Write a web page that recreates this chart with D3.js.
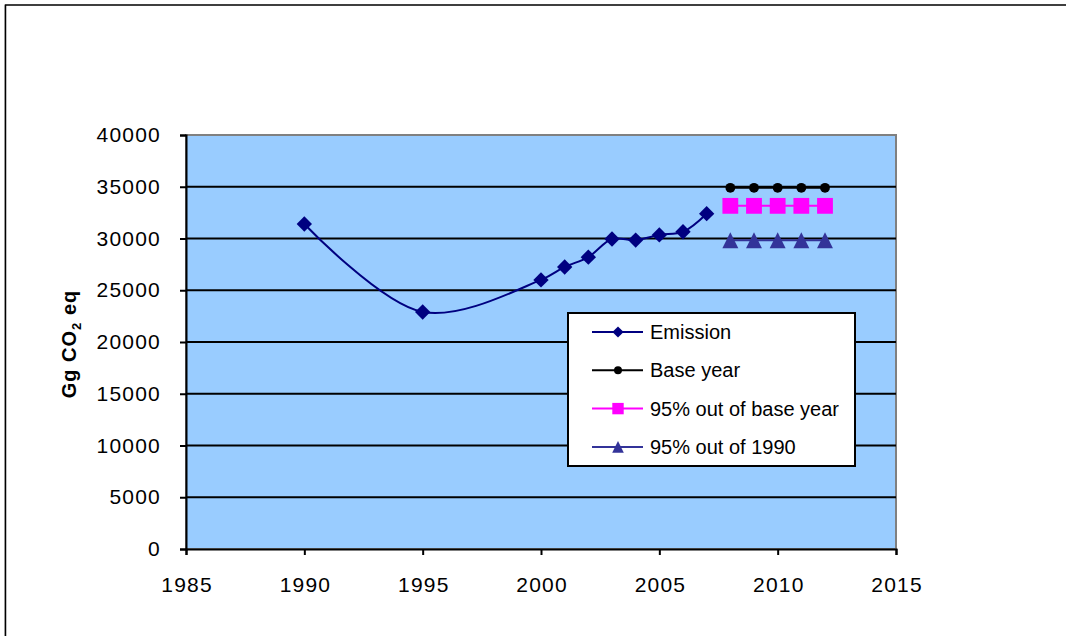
<!DOCTYPE html>
<html>
<head>
<meta charset="utf-8">
<script src="https://cdn.jsdelivr.net/npm/d3@7"></script>
<style>
  html, body { margin: 0; padding: 0; background: #fff; }
  svg { display: block; font-family: "Liberation Sans", Arial, sans-serif; }
</style>
</head>
<body>
<svg id="chart" width="1066" height="636"></svg>
<script>
// Emission series (Gg CO2 eq)
const emissionYears  = [1990, 1995, 2000, 2001, 2002, 2003, 2004, 2005, 2006, 2007];
const emissionValues = [31400, 22900, 26000, 27250, 28200, 29950, 29850, 30350, 30650, 32400];

// Commitment period targets
const targetYears      = [2008, 2009, 2010, 2011, 2012];
const baseYearValues   = [34900, 34900, 34900, 34900, 34900];
const base95Values     = [33155, 33155, 33155, 33155, 33155];
const y1990_95Values   = [29830, 29830, 29830, 29830, 29830];

const xTicks = [1985, 1990, 1995, 2000, 2005, 2010, 2015];
const yTicks = [0, 5000, 10000, 15000, 20000, 25000, 30000, 35000, 40000];

const seriesNames = ["Emission", "Base year", "95% out of base year", "95% out of 1990"];

const svg = d3.select("#chart");

// outer chart border
svg.append("rect")
  .attr("x", 5.5).attr("y", 5).attr("width", 1100).attr("height", 700)
  .attr("fill", "none").attr("stroke", "#000").attr("stroke-width", 1.5);
svg.append("line")
  .attr("x1", 4.5).attr("x2", 4.5).attr("y1", 5).attr("y2", 636)
  .attr("stroke", "#999").attr("stroke-width", 1);

const x = d3.scaleLinear().domain([1985, 2015]).range([186, 896]);
const y = d3.scaleLinear().domain([0, 40000]).range([549, 135]);

// plot area
svg.append("rect")
  .attr("x", x(1985)).attr("y", y(40000))
  .attr("width", x(2015) - x(1985)).attr("height", y(0) - y(40000))
  .attr("fill", "#99CCFF").attr("stroke", "#808080").attr("stroke-width", 2);

// horizontal gridlines
svg.append("g").selectAll("line")
  .data(yTicks.filter(d => d > 0 && d < 40000))
  .join("line")
  .attr("x1", x(1985)).attr("x2", x(2015))
  .attr("y1", d => y(d)).attr("y2", d => y(d))
  .attr("stroke", "#000").attr("stroke-width", 2);

// y axis
const yAxis = svg.append("g")
  .attr("transform", `translate(${x(1985)},0)`)
  .call(d3.axisLeft(y).tickValues(yTicks).tickFormat(d3.format("d")).tickSize(6).tickPadding(19));
yAxis.select(".domain").attr("stroke", "#000").attr("stroke-width", 2);
yAxis.selectAll(".tick line").attr("stroke", "#000").attr("stroke-width", 2);
yAxis.selectAll(".tick text").attr("font-size", 21).attr("fill", "#000")
  .attr("letter-spacing", 1.2)
  .attr("font-family", "Liberation Sans, Arial, sans-serif");

// x axis
const xAxis = svg.append("g")
  .attr("transform", `translate(0,${y(0)})`)
  .call(d3.axisBottom(x).tickValues(xTicks).tickFormat(d3.format("d")).tickSize(6).tickPadding(22));
xAxis.select(".domain").attr("stroke", "#000").attr("stroke-width", 2);
xAxis.selectAll(".tick line").attr("stroke", "#000").attr("stroke-width", 2);
xAxis.selectAll(".tick text").attr("font-size", 21).attr("fill", "#000")
  .attr("letter-spacing", 1.2).attr("dx", 0.6)
  .attr("font-family", "Liberation Sans, Arial, sans-serif");

// y axis title
const yTitle = svg.append("text")
  .attr("transform", "translate(76,344) rotate(-90)")
  .attr("text-anchor", "middle")
  .attr("letter-spacing", 1)
  .attr("font-size", 20).attr("font-weight", "bold").attr("fill", "#000");
yTitle.append("tspan").text("Gg CO");
yTitle.append("tspan").attr("font-size", 13).attr("dy", 5).text("2");
yTitle.append("tspan").attr("dy", -5).text(" eq");

// marker shapes; the triangle is centred on its bounding box
const triangleBox = {
  draw(ctx, size) {
    const h = Math.sqrt(size) * 0.65;
    ctx.moveTo(0, -h);
    ctx.lineTo(h, h);
    ctx.lineTo(-h, h);
    ctx.closePath();
  }
};
const shapes = {
  diamond:  (s) => d3.symbol(d3.symbolDiamond2, s)(),
  circle:   (s) => d3.symbol(d3.symbolCircle, s)(),
  square:   (s) => d3.symbol(d3.symbolSquare, s)(),
  triangle: (s) => d3.symbol(triangleBox, s)()
};

const series = [
  { name: seriesNames[0], years: emissionYears, values: emissionValues, color: "#000080", shape: "diamond", size: 150, curve: d3.curveCatmullRom.alpha(0.5) },
  { name: seriesNames[1], years: targetYears, values: baseYearValues, color: "#000000", shape: "circle", size: 75, curve: d3.curveLinear },
  { name: seriesNames[2], years: targetYears, values: base95Values, color: "#FF00FF", shape: "square", size: 250, curve: d3.curveLinear },
  { name: seriesNames[3], years: targetYears, values: y1990_95Values, color: "#333399", shape: "triangle", size: 150, curve: d3.curveLinear }
];

series.forEach(s => {
  const pts = s.years.map((yr, i) => [yr, s.values[i]]);
  const line = d3.line().x(d => x(d[0])).y(d => y(d[1])).curve(s.curve);
  svg.append("path")
    .attr("d", line(pts))
    .attr("fill", "none").attr("stroke", s.color).attr("stroke-width", 2);
  svg.append("g").selectAll("path")
    .data(pts)
    .join("path")
    .attr("d", shapes[s.shape](s.size))
    .attr("transform", d => `translate(${x(d[0])},${y(d[1])})`)
    .attr("fill", s.color);
});

// legend
const legend = svg.append("g");
legend.append("rect")
  .attr("x", 568).attr("y", 313).attr("width", 287).attr("height", 153)
  .attr("fill", "#fff").attr("stroke", "#000").attr("stroke-width", 2);
const legendSizes = [80, 50, 130, 80];
series.forEach((s, i) => {
  const cy = 332 + i * 38.3;
  legend.append("line")
    .attr("x1", 592).attr("x2", 643).attr("y1", cy).attr("y2", cy)
    .attr("stroke", s.color).attr("stroke-width", 2);
  legend.append("path")
    .attr("d", shapes[s.shape](legendSizes[i]))
    .attr("transform", `translate(618,${cy})`)
    .attr("fill", s.color);
  legend.append("text")
    .attr("x", 650).attr("y", cy).attr("dy", "0.35em")
    .attr("font-size", 20).attr("fill", "#000")
    .text(s.name);
});
</script>
</body>
</html>
